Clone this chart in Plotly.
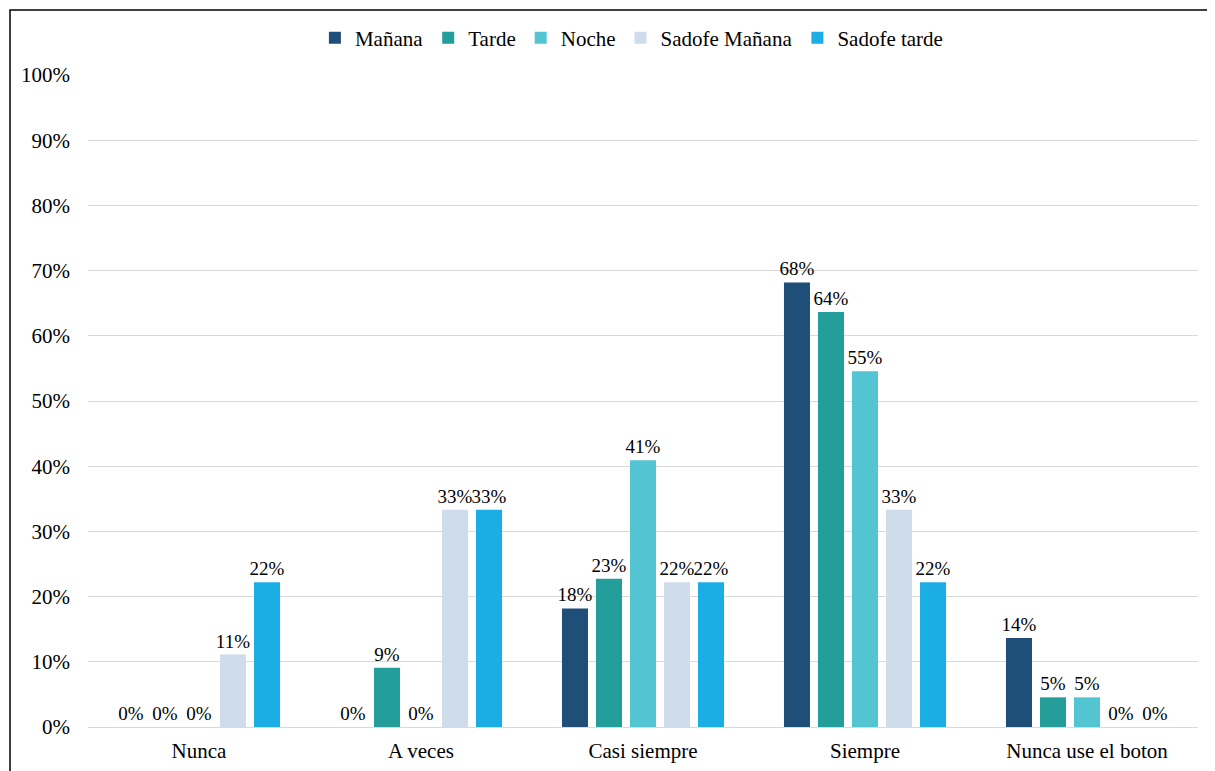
import plotly.graph_objects as go

categories = ["Nunca", "A veces", "Casi siempre", "Siempre", "Nunca use el boton"]
series_names = ["Mañana", "Tarde", "Noche", "Sadofe Mañana", "Sadofe tarde"]
manana = [0.0, 0.0, 0.1818, 0.6818, 0.1364]
tarde = [0.0, 0.0909, 0.2273, 0.6364, 0.0455]
noche = [0.0, 0.0, 0.4091, 0.5455, 0.0455]
sadofe_manana = [0.1111, 0.3333, 0.2222, 0.3333, 0.0]
sadofe_tarde = [0.2222, 0.3333, 0.2222, 0.2222, 0.0]
colors = ["#1F4E79", "#239E9A", "#53C5D2", "#CFDCEC", "#1BAEE4"]
y_ticks = [i / 10 for i in range(11)]

FONT = "Liberation Serif, Times New Roman, serif"
FS = 21
LABEL_FS = 19
series_values = [manana, tarde, noche, sadofe_manana, sadofe_tarde]

fig = go.Figure()
for name, vals, col in zip(series_names, series_values, colors):
    fig.add_trace(go.Bar(
        x=categories, y=vals, name=name,
        marker=dict(color=col, line=dict(width=0)),
        texttemplate="%{y:.0%}", textposition="outside",
        textfont=dict(family=FONT, size=LABEL_FS, color="black"),
        outsidetextfont=dict(family=FONT, size=LABEL_FS, color="black"),
        constraintext="none",
        cliponaxis=False,
    ))

# page body has an 8px offset; plot area at screen x 88-1198, y 75-727
L, T, PW, PH = 80, 67, 1110, 652
fig.update_layout(
    width=1215, height=771,
    margin=dict(l=L, r=1215 - L - PW, t=T, b=771 - T - PH, autoexpand=False),
    paper_bgcolor="white", plot_bgcolor="white",
    barmode="group", bargap=0.234, bargroupgap=0.235,
    font=dict(family=FONT, size=FS, color="black"),
    legend=dict(orientation="h", x=0.49, xanchor="center", y=(T + PH - 30) / PH, yanchor="middle",
                font=dict(family=FONT, size=FS), bgcolor="rgba(0,0,0,0)",
                itemwidth=30, traceorder="normal"),
    yaxis=dict(range=[0, 1], tickvals=y_ticks, tickformat=".0%",
               showgrid=True, gridcolor="#D9D9D9", gridwidth=1,
               zeroline=True, zerolinecolor="#D9D9D9", zerolinewidth=1,
               showline=False, ticks="", ticklabelstandoff=17,
               tickfont=dict(family=FONT, size=FS)),
    xaxis=dict(showline=False, ticks="", tickfont=dict(family=FONT, size=FS),
               ticklabelstandoff=9),
)
fig.add_shape(type="rect", xref="paper", yref="paper",
              x0=(2 - L) / PW, x1=(1240 - L) / PW,
              y0=-0.2, y1=(T + PH - 2) / PH,
              line=dict(color="black", width=1.5), fillcolor="rgba(0,0,0,0)", layer="above")

fig.write_html("out.html")
